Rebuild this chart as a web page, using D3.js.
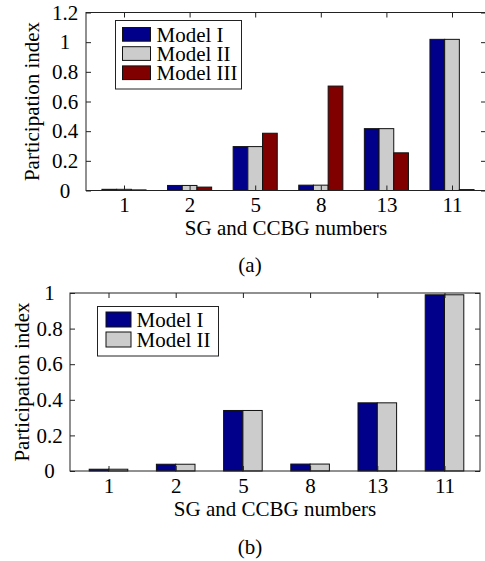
<!DOCTYPE html>
<html>
<head>
<meta charset="utf-8">
<script src="https://cdn.jsdelivr.net/npm/d3@7"></script>
<style>
  body { margin: 0; background: #fff; }
  svg text { font-family: "Liberation Serif", "Times New Roman", "DejaVu Serif", serif; fill: #000; }
  .axis line { stroke: #222; }
</style>
</head>
<body>
<script>
// group labels on the x axis (same for both panels)
var categories = ["1", "2", "5", "8", "13", "11"];

// panel (a): three models
var seriesA = ["Model I", "Model II", "Model III"];
var modelI_a   = [0.008, 0.034, 0.296, 0.036, 0.417, 1.019];
var modelII_a  = [0.008, 0.034, 0.296, 0.036, 0.417, 1.019];
var modelIII_a = [0.004, 0.023, 0.386, 0.704, 0.254, 0.006];
var yTicksA = [0, 0.2, 0.4, 0.6, 0.8, 1, 1.2];

// panel (b): two models
var seriesB = ["Model I", "Model II"];
var modelI_b  = [0.010, 0.038, 0.340, 0.039, 0.383, 0.990];
var modelII_b = [0.010, 0.038, 0.340, 0.039, 0.383, 0.990];
var yTicksB = [0, 0.2, 0.4, 0.6, 0.8, 1];

var colors = ["#00008b", "#cccccc", "#800000"];
var serif = "Liberation Serif, Times New Roman, serif";
var fs = 21;

var svg = d3.select("body").append("svg")
    .attr("width", 485)
    .attr("height", 561)
    .attr("font-family", serif);

function panel(opt) {
  var g = svg.append("g");
  var left = opt.left, right = opt.right, top = opt.top, bottom = opt.bottom;

  // group centres -> pixels
  var x = d3.scaleLinear().domain([0, categories.length - 1]).range(opt.xRange);
  var y = d3.scaleLinear().domain(opt.yDomain).range([bottom, top]);

  var nS = opt.data.length;
  var bw = opt.barWidth;

  // bars
  opt.data.forEach(function(vals, s) {
    g.selectAll(null)
      .data(vals)
      .enter().append("rect")
        .attr("x", function(d, i) { return x(i) - nS * bw / 2 + s * bw; })
        .attr("y", function(d) { return y(d); })
        .attr("width", bw)
        .attr("height", function(d) { return y(0) - y(d); })
        .attr("fill", colors[s])
        .attr("stroke", "#111")
        .attr("stroke-width", 1);
  });

  // axes with inward ticks
  g.append("g").attr("class", "axis")
      .attr("transform", "translate(0," + bottom + ")")
      .call(d3.axisBottom(x).tickValues(d3.range(categories.length))
        .tickFormat(function(i) { return categories[i]; })
        .tickSizeInner(-5).tickSizeOuter(0).tickPadding(7));
  g.append("g").attr("class", "axis")
      .attr("transform", "translate(0," + top + ")")
      .call(d3.axisTop(x).tickValues(d3.range(categories.length))
        .tickFormat("").tickSizeInner(-5).tickSizeOuter(0));
  var ya = g.append("g").attr("class", "axis")
      .attr("transform", "translate(" + left + ",0)")
      .call(d3.axisLeft(y).tickValues(opt.yTicks)
        .tickFormat(function(d) { return d3.format("")(+d.toFixed(1)); })
        .tickSizeInner(-5).tickSizeOuter(0));
  // y tick labels are centred in a column left of the axis
  ya.selectAll("text").attr("text-anchor", "middle").attr("x", opt.yTickX);
  g.append("g").attr("class", "axis")
      .attr("transform", "translate(" + right + ",0)")
      .call(d3.axisRight(y).tickValues(opt.yTicks)
        .tickFormat("").tickSizeInner(-5).tickSizeOuter(0));
  g.selectAll(".axis").attr("font-family", serif).attr("font-size", fs);
  g.selectAll(".axis .domain").remove();

  // box
  g.append("rect")
      .attr("x", left).attr("y", top)
      .attr("width", right - left).attr("height", bottom - top)
      .attr("fill", "none").attr("stroke", "#222").attr("stroke-width", 1);

  // axis titles
  g.append("text")
      .attr("transform", "translate(" + opt.yLabelX + "," + (top + bottom) / 2 + ") rotate(-90)")
      .attr("text-anchor", "middle")
      .attr("font-size", fs)
      .text("Participation index");
  g.append("text")
      .attr("x", (left + right) / 2).attr("y", bottom + 44.5)
      .attr("text-anchor", "middle")
      .attr("font-size", fs)
      .text("SG and CCBG numbers");
  g.append("text")
      .attr("x", 250).attr("y", opt.capY)
      .attr("text-anchor", "middle")
      .attr("font-size", fs)
      .text(opt.caption);

  // legend
  var L = opt.legend;
  var lg = g.append("g").attr("transform", "translate(" + L.x + "," + L.y + ")");
  lg.append("rect")
      .attr("width", L.w).attr("height", L.h)
      .attr("fill", "#fff").attr("stroke", "#222");
  opt.series.forEach(function(name, s) {
    var row = lg.append("g").attr("transform", "translate(0," + (L.pad + s * L.step) + ")");
    row.append("rect")
        .attr("x", L.sx).attr("y", 0)
        .attr("width", L.sw).attr("height", L.sh)
        .attr("fill", colors[s]).attr("stroke", "#111");
    row.append("text")
        .attr("x", L.tx).attr("y", L.sh / 2)
        .attr("dy", "0.35em")
        .attr("font-size", fs)
        .text(name);
  });
}

panel({
  data: [modelI_a, modelII_a, modelIII_a],
  series: seriesA,
  left: 86, right: 486, top: 12.5, bottom: 190.5,
  xRange: [124, 452],
  yDomain: [0, 1.2], yTicks: yTicksA,
  yTickX: -21,
  barWidth: 14.7,
  yLabelX: 39,
  caption: "(a)", capY: 272,
  legend: { x: 115.5, y: 20.5, w: 126, h: 68.5, pad: 7, step: 19.2, sx: 7, sw: 28, sh: 13.7, tx: 41 }
});

panel({
  data: [modelI_b, modelII_b],
  series: seriesB,
  left: 70, right: 480, top: 293, bottom: 471,
  xRange: [108.5, 444.5],
  yDomain: [0, 1], yTicks: yTicksB,
  yTickX: -20.5,
  barWidth: 19.3,
  yLabelX: 29,
  caption: "(b)", capY: 554,
  legend: { x: 97.5, y: 306.5, w: 121, h: 49.5, pad: 5.5, step: 20, sx: 8.5, sw: 25, sh: 15, tx: 39 }
});
</script>
</body>
</html>
